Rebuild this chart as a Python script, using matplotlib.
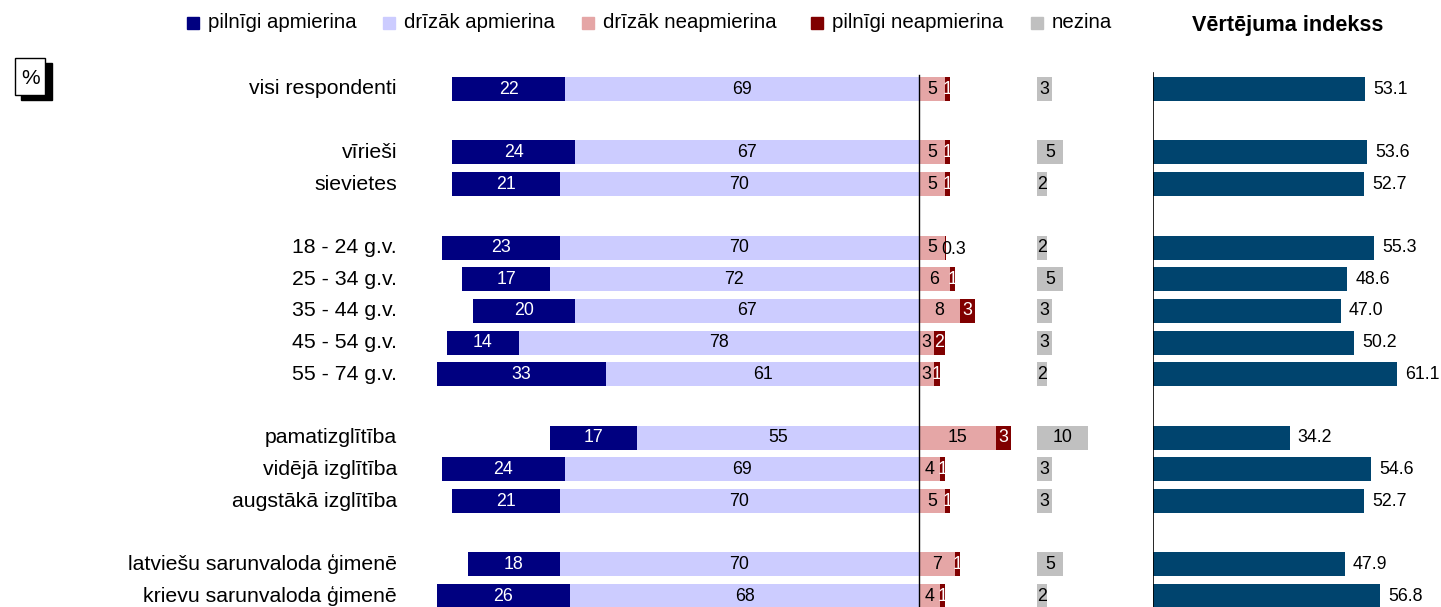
import matplotlib.pyplot as plt
from matplotlib.patches import Rectangle

plt.rcParams['font.family'] = ['Liberation Sans', 'DejaVu Sans']

# data
categories = ['visi respondenti', 'vīrieši', 'sievietes', '18 - 24 g.v.', '25 - 34 g.v.',
              '35 - 44 g.v.', '45 - 54 g.v.', '55 - 74 g.v.', 'pamatizglītība',
              'vidējā izglītība', 'augstākā izglītība', 'latviešu sarunvaloda ģimenē',
              'krievu sarunvaloda ģimenē']
rows = [0, 2, 3, 5, 6, 7, 8, 9, 11, 12, 13, 15, 16]
pilnigi_apm = [22, 24, 21, 23, 17, 20, 14, 33, 17, 24, 21, 18, 26]
drizak_apm = [69, 67, 70, 70, 72, 67, 78, 61, 55, 69, 70, 70, 68]
drizak_neapm = [5, 5, 5, 5, 6, 8, 3, 3, 15, 4, 5, 7, 4]
pilnigi_neapm = [1, 1, 1, 0.3, 1, 3, 2, 1, 3, 1, 1, 1, 1]
nezina = [3, 5, 2, 2, 5, 3, 3, 2, 10, 3, 3, 5, 2]
indekss = [53.1, 53.6, 52.7, 55.3, 48.6, 47.0, 50.2, 61.1, 34.2, 54.6, 52.7, 47.9, 56.8]

legend_labels = ['pilnīgi apmierina', 'drīzāk apmierina', 'drīzāk neapmierina',
                 'pilnīgi neapmierina', 'nezina']
colors = ['#000080', '#CCCCFF', '#E5A6A6', '#800000', '#C0C0C0']
idx_color = '#00446E'

W, H = 1441, 607
fig = plt.figure(figsize=(W / 100, H / 100), dpi=100)

# pixel layout
zero_px = 919
scale = 5.13          # px per percent
row0_px, row_step = 89, 31.7
top_px, bot_px = 60, 607
nez_offset = (1037 - zero_px) / scale
bar_h = 24 / row_step


def fx(px):
    return px / W


def fy(py):
    return 1 - py / H


ylim = ((bot_px - row0_px) / row_step, (top_px - row0_px) / row_step)

ax = fig.add_axes([fx(100), fy(bot_px), fx(1110 - 100), (bot_px - top_px) / H])
ax.set_xlim((100 - zero_px) / scale, (1110 - zero_px) / scale)
ax.set_ylim(*ylim)
ax.axis('off')

ax2 = fig.add_axes([fx(1153), fy(bot_px), fx(W - 1153), (bot_px - top_px) / H])
ax2.set_xlim(0, (W - 1153) / 4.0)
ax2.set_ylim(*ylim)
ax2.axis('off')

fs_val = 12.8
for i, r in enumerate(rows):
    a, b = pilnigi_apm[i], drizak_apm[i]
    c, d = drizak_neapm[i], pilnigi_neapm[i]
    ax.barh(r, a, left=-(a + b), height=bar_h, color=colors[0])
    ax.barh(r, b, left=-b, height=bar_h, color=colors[1])
    ax.barh(r, c, left=0, height=bar_h, color=colors[2])
    ax.barh(r, d, left=c, height=bar_h, color=colors[3])
    ax.barh(r, nezina[i], left=nez_offset, height=bar_h, color=colors[4])
    ax.text(-(a + b) + a / 2, r, f'{a:g}', ha='center', va='center', color='white', fontsize=fs_val)
    ax.text(-b / 2, r, f'{b:g}', ha='center', va='center', color='black', fontsize=fs_val)
    ax.text(c / 2, r, f'{c:g}', ha='center', va='center', color='black', fontsize=fs_val)
    if d < 0.5:
        ax.text(c - 0.6, r + 0.05, f'{d:g}', ha='left', va='center', color='black', fontsize=fs_val)
    else:
        ax.text(c + d / 2, r, f'{d:g}', ha='center', va='center', color='white', fontsize=fs_val)
    ax.text(nez_offset + nezina[i] / 2, r, f'{nezina[i]:g}', ha='center', va='center',
            color='black', fontsize=fs_val)
    ax.text((397 - zero_px) / scale, r, categories[i], ha='right', va='center', fontsize=15.3)

    ax2.barh(r, indekss[i], left=0, height=bar_h, color=idx_color)
    ax2.text(indekss[i] + 2, r, f'{indekss[i]:.1f}', ha='left', va='center', fontsize=fs_val)

ax.plot([0, 0], [ylim[0], (75 - row0_px) / row_step], color='black', lw=1)
ax2.plot([0, 0], [ylim[0], (73 - row0_px) / row_step], color='black', lw=1.2)

# legend
leg_x = [208, 404, 603, 832, 1052]
for lab, col, x in zip(legend_labels, colors, leg_x):
    fig.add_artist(Rectangle((fx(x - 21), fy(29)), fx(12), 12 / H, color=col,
                             transform=fig.transFigure))
    fig.text(fx(x), fy(23), lab, ha='left', va='center', fontsize=14.7)

fig.text(fx(1288), fy(25), 'Vērtējuma indekss', ha='center', va='center',
         fontsize=15.6, fontweight='bold')

# % box with shadow
fig.add_artist(Rectangle((fx(21), fy(100)), fx(31), 37 / H, color='black',
                         transform=fig.transFigure))
fig.add_artist(Rectangle((fx(15), fy(95)), fx(30), 37 / H, facecolor='white',
                         edgecolor='black', lw=1, transform=fig.transFigure))
fig.text(fx(31), fy(79), '%', ha='center', va='center', fontsize=15)

fig.savefig('out.png', dpi=100)
